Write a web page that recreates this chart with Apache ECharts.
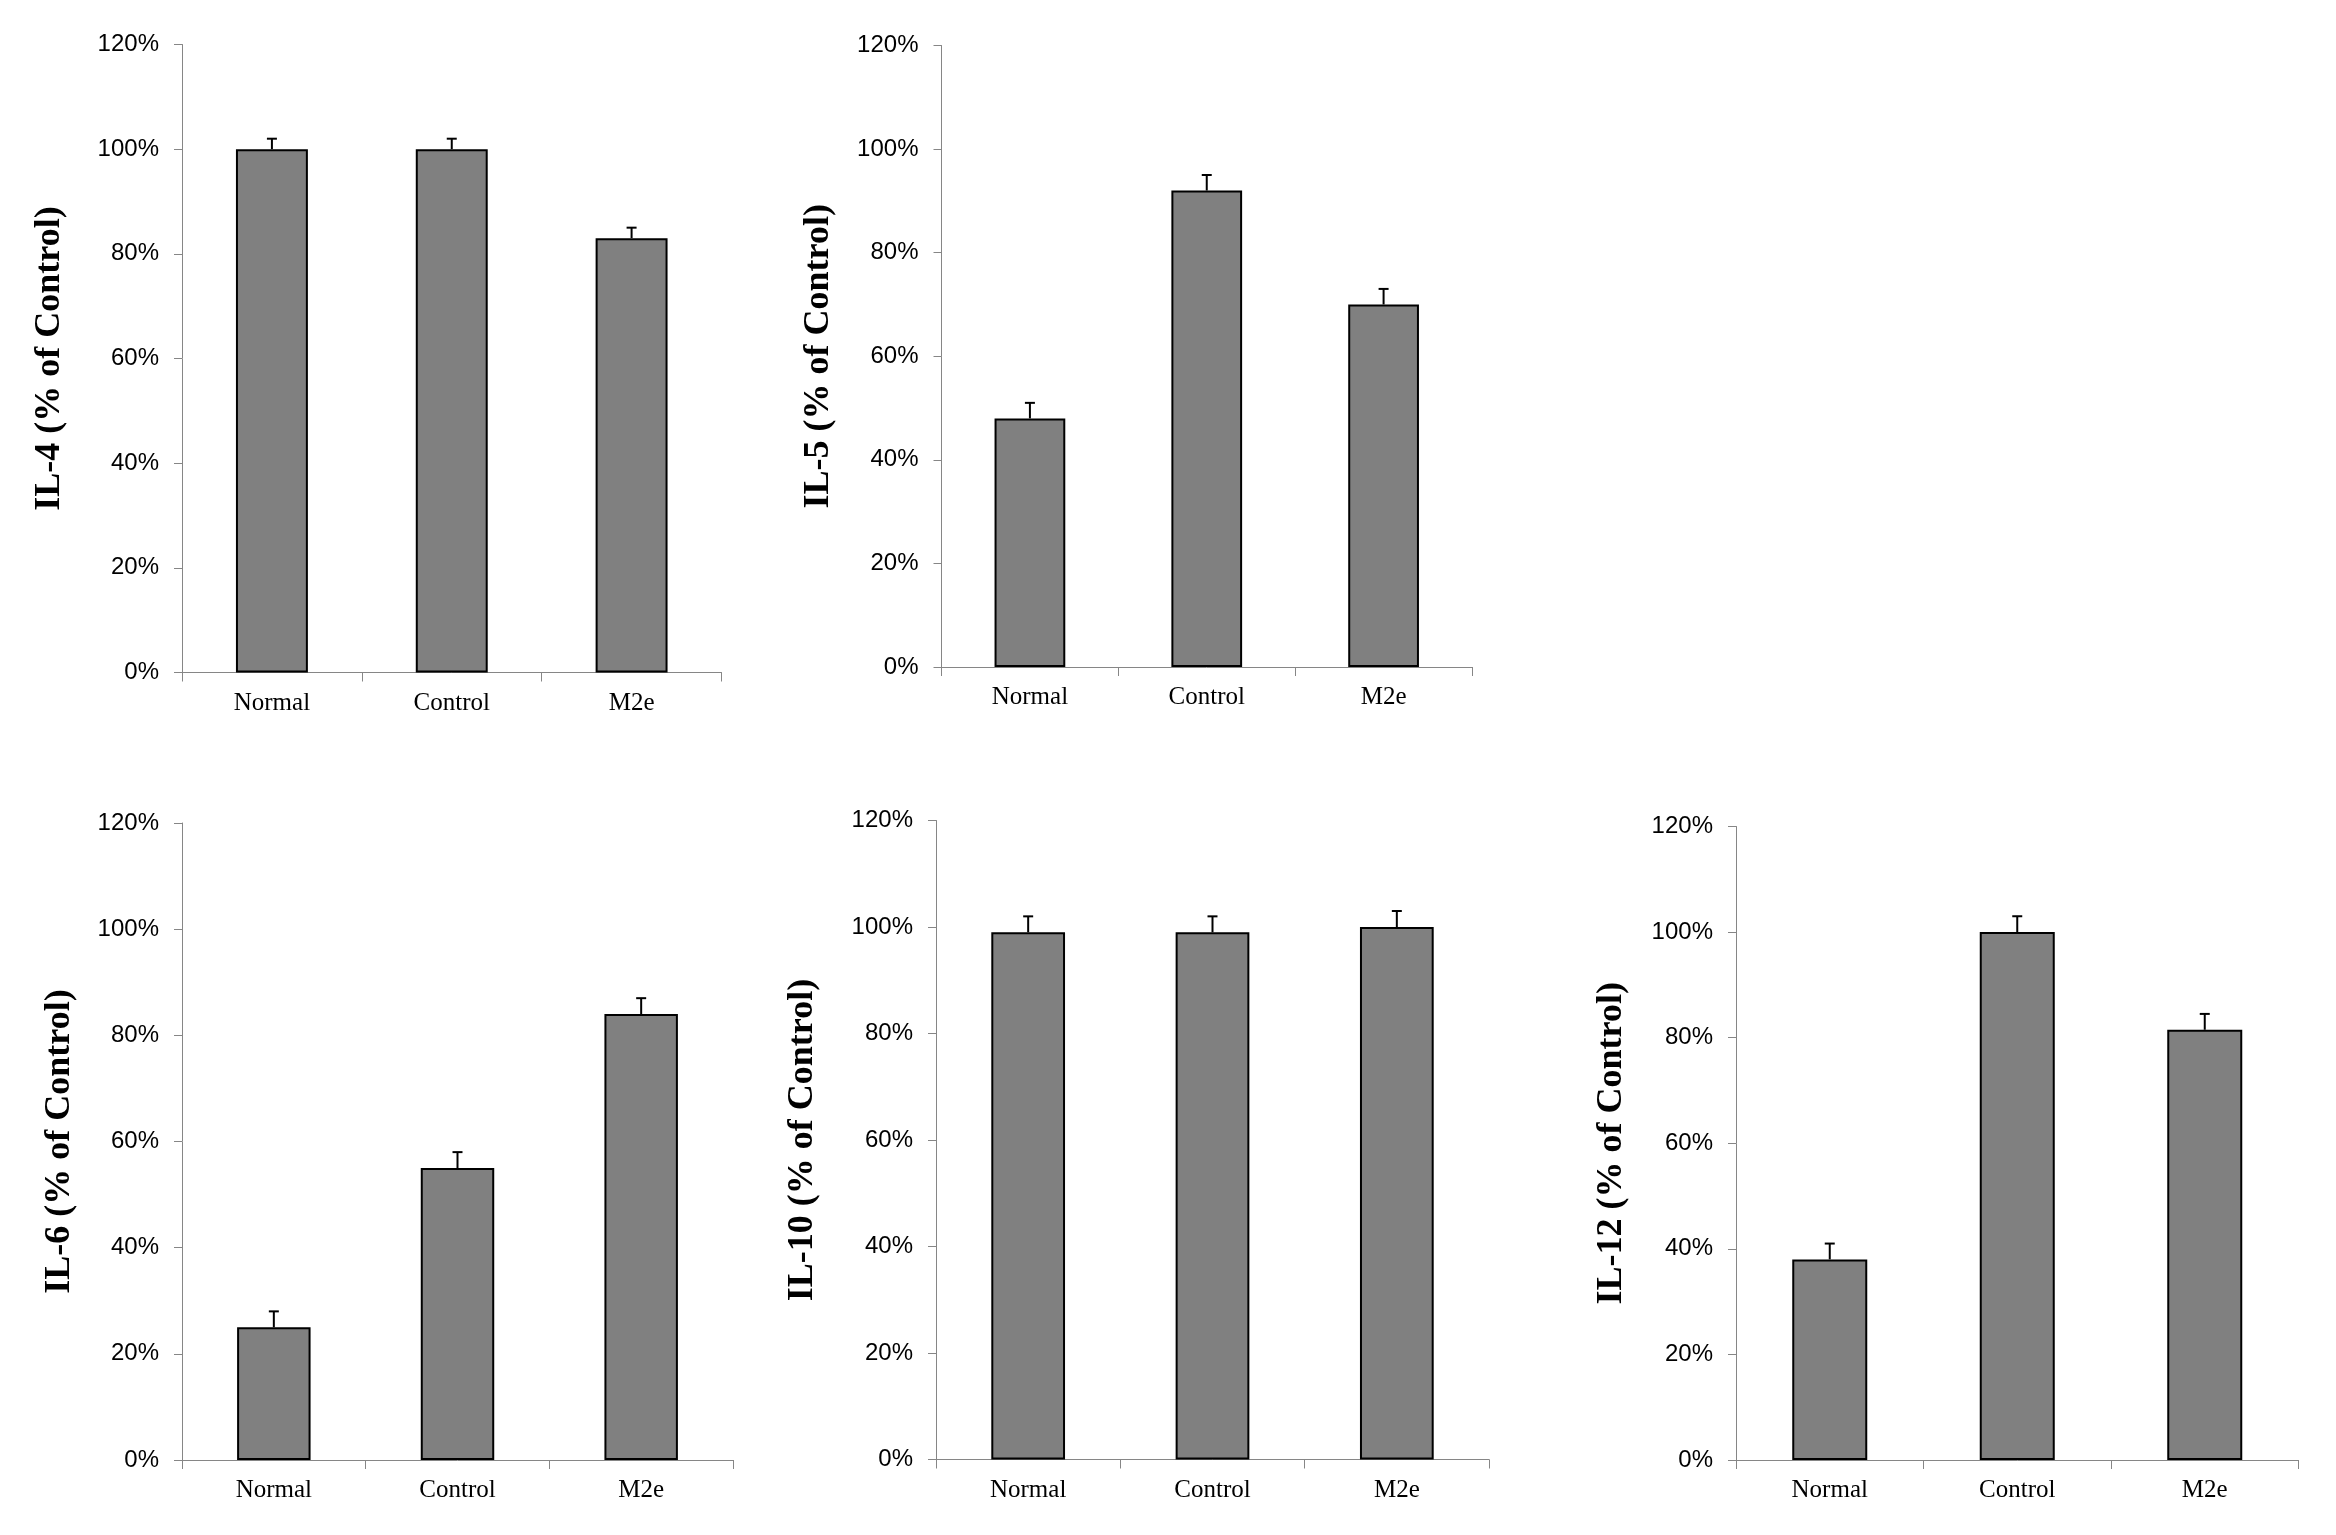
<!DOCTYPE html>
<html><head><meta charset="utf-8">
<script src="https://cdn.jsdelivr.net/npm/echarts@6/dist/echarts.min.js"></script>
<style>html,body{margin:0;padding:0;background:#fff}#c{width:2336px;height:1535px}</style>
</head><body><div id="c"></div>
<script>
const categories = ['Normal', 'Control', 'M2e'];
const il4 = [100, 100, 83];
const il4Err = [2, 2, 2];
const il5 = [48, 92, 70];
const il5Err = [3, 3, 3];
const il6 = [25, 55, 84];
const il6Err = [3, 3, 3];
const il10 = [99, 99, 100];
const il10Err = [3, 3, 3];
const il12 = [38, 100, 81.5];
const il12Err = [3, 3, 3];
const yTicks = { min: 0, max: 120, step: 20 };
const titles = ['IL-4 (% of Control)', 'IL-5 (% of Control)', 'IL-6 (% of Control)', 'IL-10 (% of Control)', 'IL-12 (% of Control)'];

const panels = [
  { vals: il4, errs: il4Err, grid: { left: 182, top: 44.5, width: 539.5, height: 628 }, gap: 114 },
  { vals: il5, errs: il5Err, grid: { left: 941.5, top: 45.5, width: 530.5, height: 621.5 }, gap: 105 },
  { vals: il6, errs: il6Err, grid: { left: 182, top: 823, width: 551, height: 637 }, gap: 104 },
  { vals: il10, errs: il10Err, grid: { left: 936, top: 820.5, width: 553, height: 639 }, gap: 115 },
  { vals: il12, errs: il12Err, grid: { left: 1736, top: 826.5, width: 562.5, height: 633.5 }, gap: 106 }
];

const axisColor = '#868686';
const option = { backgroundColor: '#fff', animation: false, grid: [], xAxis: [], yAxis: [], series: [] };

panels.forEach((p, i) => {
  option.grid.push(Object.assign({ containLabel: false }, p.grid));
  option.xAxis.push({
    type: 'category', gridIndex: i, data: categories,
    axisLine: { lineStyle: { color: axisColor, width: 1 } },
    axisTick: { show: true, length: 9, lineStyle: { color: axisColor } },
    axisLabel: { fontFamily: 'Liberation Serif', fontSize: 25, color: '#000', margin: 18 }
  });
  option.yAxis.push({
    type: 'value', gridIndex: i, min: yTicks.min, max: yTicks.max, interval: yTicks.step,
    name: titles[i], nameLocation: 'middle', nameRotate: 90, nameGap: p.gap,
    nameTextStyle: { fontFamily: 'Liberation Serif', fontWeight: 'bold', fontSize: 36, color: '#000' },
    axisLine: { show: true, lineStyle: { color: axisColor, width: 1 } },
    axisTick: { show: true, length: 8, lineStyle: { color: axisColor } },
    splitLine: { show: false },
    axisLabel: { formatter: '{value}%', fontFamily: 'Liberation Sans', fontSize: 24, color: '#000', margin: 23 }
  });
  option.series.push({
    type: 'bar', xAxisIndex: i, yAxisIndex: i, data: p.vals, barWidth: '40%',
    itemStyle: { color: '#808080', borderColor: '#000', borderWidth: 2 }
  });
  option.series.push({
    type: 'custom', xAxisIndex: i, yAxisIndex: i, z: 5,
    data: p.vals.map((v, k) => [k, v, p.errs[k]]),
    renderItem: function (params, api) {
      const x = api.value(0), v = api.value(1), e = api.value(2);
      const a = api.coord([x, v]);
      const b = api.coord([x, v + e]);
      const st = { stroke: '#000', lineWidth: 2 };
      return {
        type: 'group', children: [
          { type: 'line', shape: { x1: a[0], y1: a[1], x2: b[0], y2: b[1] }, style: st },
          { type: 'line', shape: { x1: b[0] - 5, y1: b[1], x2: b[0] + 5, y2: b[1] }, style: st }
        ]
      };
    }
  });
});

const chart = echarts.init(document.getElementById('c'), null, { renderer: 'canvas' });
chart.setOption(option);
</script>
</body></html>
